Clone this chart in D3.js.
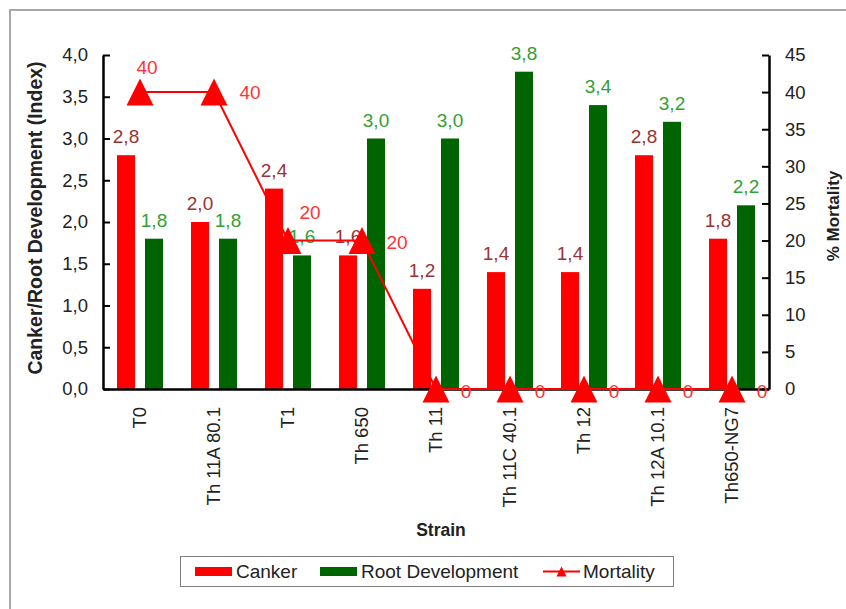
<!DOCTYPE html>
<html>
<head>
<meta charset="utf-8">
<script src="https://cdn.jsdelivr.net/npm/d3@7"></script>
<style>
  html, body { margin: 0; padding: 0; background: #fff; }
  svg { display: block; font-family: "Liberation Sans", Arial, sans-serif; }
</style>
</head>
<body>
<svg id="chart" width="846" height="609"></svg>
<script>
// ---- data ----
const categories = ["T0", "Th 11A 80.1", "T1", "Th 650", "Th 11", "Th 11C 40.1", "Th 12", "Th 12A 10.1", "Th650-NG7"];
const canker = [2.8, 2.0, 2.4, 1.6, 1.2, 1.4, 1.4, 2.8, 1.8];
const rootDev = [1.8, 1.8, 1.6, 3.0, 3.0, 3.8, 3.4, 3.2, 2.2];
const mortality = [40, 40, 20, 20, 0, 0, 0, 0, 0];
const leftTicks = [0, 0.5, 1, 1.5, 2, 2.5, 3, 3.5, 4];
const rightTicks = [0, 5, 10, 15, 20, 25, 30, 35, 40, 45];

// label placement for mortality labels (dx, dy in px)
const mortLabelOffsets = [[7, -25], [36, 0], [22, -28], [35, 2], [30, 2], [30, 2], [30, 2], [30, 2], [30, 2]];

const svg = d3.select("#chart");
const loc = d3.formatLocale({ decimal: ",", thousands: ".", grouping: [3], currency: ["", ""] });
const f1 = loc.format(".1f");

const plot = { left: 103, right: 769, top: 55, bottom: 389 };

// outer frame
svg.append("rect").attr("x", 10).attr("y", 10).attr("width", 860).attr("height", 640)
  .attr("fill", "none").attr("stroke", "#a8a8a8").attr("stroke-width", 2);

const x = d3.scaleBand().domain(categories).range([plot.left, plot.right]).padding(0);
const bw = x.bandwidth();
const xSub = d3.scaleBand().domain(["canker", "root"]).range([bw / 2 - 23, bw / 2 + 23]).paddingInner(0.357);
const yL = d3.scaleLinear().domain([0, 4]).range([plot.bottom, plot.top]);
const yR = d3.scaleLinear().domain([0, 45]).range([plot.bottom, plot.top]);

const rows = categories.map((c, i) => ({ c, canker: canker[i], root: rootDev[i], mort: mortality[i], off: mortLabelOffsets[i] }));

// bars
svg.append("g").selectAll("rect").data(rows).join("rect")
  .attr("x", d => x(d.c) + xSub("canker")).attr("width", xSub.bandwidth())
  .attr("y", d => yL(d.canker)).attr("height", d => yL(0) - yL(d.canker))
  .attr("fill", "#ff0000");
svg.append("g").selectAll("rect").data(rows).join("rect")
  .attr("x", d => x(d.c) + xSub("root")).attr("width", xSub.bandwidth())
  .attr("y", d => yL(d.root)).attr("height", d => yL(0) - yL(d.root))
  .attr("fill", "#006400");

// axes
const gL = svg.append("g").attr("transform", `translate(${plot.left},0)`)
  .call(d3.axisLeft(yL).tickValues(leftTicks).tickFormat(f1).tickSizeInner(-7).tickSizeOuter(0).tickPadding(15));
const gR = svg.append("g").attr("transform", `translate(${plot.right},0)`)
  .call(d3.axisRight(yR).tickValues(rightTicks).tickFormat(d3.format("d")).tickSizeInner(-7).tickSizeOuter(0).tickPadding(16));
const gB = svg.append("g").attr("transform", `translate(0,${plot.bottom})`)
  .call(d3.axisBottom(x).tickSize(0).tickSizeOuter(0));
gB.selectAll("text").attr("transform", "rotate(-90)").attr("x", -18).attr("y", 0).attr("dy", ".35em")
  .attr("text-anchor", "end");

[gL, gR, gB].forEach(g => {
  g.selectAll(".domain").attr("stroke", "#000").attr("stroke-width", 2.5);
  g.selectAll(".tick line").attr("stroke", "#000").attr("stroke-width", 2);
  g.selectAll("text").attr("font-size", 18.5).attr("fill", "#222").attr("font-family", '"Liberation Sans", Arial, sans-serif');
});

// bar labels
svg.append("g").selectAll("text").data(rows).join("text")
  .attr("x", d => x(d.c) + xSub("canker") + xSub.bandwidth() / 2)
  .attr("y", d => yL(d.canker) - 12)
  .attr("text-anchor", "middle").attr("font-size", 19).attr("fill", "#993333")
  .text(d => f1(d.canker));
svg.append("g").selectAll("text").data(rows).join("text")
  .attr("x", d => x(d.c) + xSub("root") + xSub.bandwidth() / 2)
  .attr("y", d => yL(d.root) - 12)
  .attr("text-anchor", "middle").attr("font-size", 19).attr("fill", "#33a033")
  .text(d => f1(d.root));

// mortality line
const line = d3.line().x(d => x(d.c) + bw / 2).y(d => yR(d.mort));
svg.append("path").datum(rows).attr("d", line).attr("fill", "none").attr("stroke", "#ff0000").attr("stroke-width", 2);
const tri = "M0,-13.5L13.5,13.5L-13.5,13.5Z";
svg.append("g").selectAll("path").data(rows).join("path")
  .attr("transform", d => `translate(${x(d.c) + bw / 2},${yR(d.mort)})`)
  .attr("d", tri).attr("fill", "#ff0000");
svg.append("g").selectAll("text").data(rows).join("text")
  .attr("x", d => x(d.c) + bw / 2 + d.off[0])
  .attr("y", d => yR(d.mort) + d.off[1])
  .attr("dy", ".35em").attr("text-anchor", "middle").attr("font-size", 19).attr("fill", "#ff3333")
  .text(d => d.mort);

// axis titles
svg.append("text").attr("transform", `translate(42,${(plot.top + plot.bottom) / 2 - 4}) rotate(-90)`)
  .attr("text-anchor", "middle").attr("font-weight", "bold").attr("font-size", 19.5).attr("fill", "#222")
  .text("Canker/Root Development (Index)");
svg.append("text").attr("transform", `translate(839,216) rotate(-90)`)
  .attr("text-anchor", "middle").attr("font-weight", "bold").attr("font-size", 17).attr("fill", "#222")
  .text("% Mortality");
svg.append("text").attr("x", 441).attr("y", 536)
  .attr("text-anchor", "middle").attr("font-weight", "bold").attr("font-size", 17.5).attr("fill", "#222")
  .text("Strain");

// legend
const lg = svg.append("g");
lg.append("rect").attr("x", 180.5).attr("y", 556.5).attr("width", 493).attr("height", 30)
  .attr("fill", "#fff").attr("stroke", "#808080").attr("stroke-width", 1);
lg.append("rect").attr("x", 195).attr("y", 567).attr("width", 37).attr("height", 9).attr("fill", "#ff0000");
lg.append("text").attr("x", 236).attr("y", 578).attr("font-size", 19).attr("fill", "#222").text("Canker");
lg.append("rect").attr("x", 320).attr("y", 567).attr("width", 37).attr("height", 9).attr("fill", "#006400");
lg.append("text").attr("x", 361).attr("y", 578).attr("font-size", 19).attr("fill", "#222").text("Root Development");
lg.append("line").attr("x1", 543).attr("x2", 580).attr("y1", 571.5).attr("y2", 571.5).attr("stroke", "#ff0000").attr("stroke-width", 2);
lg.append("path").attr("transform", "translate(561.5,571.5)").attr("d", "M0,-5L5,5L-5,5Z").attr("fill", "#ff0000");
lg.append("text").attr("x", 583).attr("y", 578).attr("font-size", 19).attr("fill", "#222").text("Mortality");
</script>
</body>
</html>
